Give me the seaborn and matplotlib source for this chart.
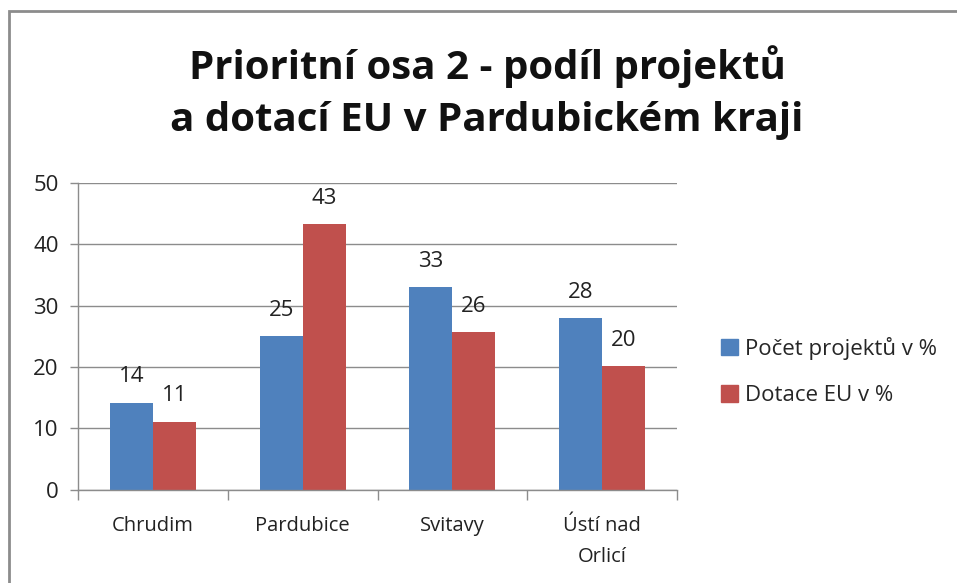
import matplotlib
matplotlib.use("Agg")
import matplotlib.pyplot as plt
import matplotlib.patches as mpatches
import seaborn as sns
import pandas as pd

# Data
okresy = ["Chrudim", "Pardubice", "Svitavy", "Ústí nad\nOrlicí"]
pocet_projektu = [14.2, 25.0, 33.0, 28.0]
dotace_eu = [11.1, 43.3, 25.7, 20.2]
serie = ["Počet projektů v %", "Dotace EU v %"]
barvy = ["#4F81BD", "#C0504D"]
y_ticks = [0, 10, 20, 30, 40, 50]

df = pd.DataFrame({
    "okres": okresy * 2,
    "hodnota": pocet_projektu + dotace_eu,
    "serie": [serie[0]] * len(okresy) + [serie[1]] * len(okresy),
})

sns.set_theme(style="white")
plt.rcParams['font.family'] = ['Open Sans', 'DejaVu Sans']

fig = plt.figure(figsize=(9.57, 5.83), dpi=100)
ax = fig.add_axes([0.0815, 0.160, 0.626, 0.526])

sns.barplot(data=df, x="okres", y="hodnota", hue="serie", palette=barvy,
            width=0.575, saturation=1, linewidth=0, ax=ax, legend=True)

ax.set_ylim(0, 50)
ax.set_xlim(-0.5, len(okresy) - 0.5)
ax.set_yticks(y_ticks)
ax.yaxis.grid(True, color="#8c8c8c", linewidth=1)
ax.set_axisbelow(True)
ax.set_xlabel("")
ax.set_ylabel("")

for side in ["top", "right"]:
    ax.spines[side].set_visible(False)
for side in ["left", "bottom"]:
    ax.spines[side].set_color("#8c8c8c")
    ax.spines[side].set_linewidth(1)

# category tick marks sit between the groups
ax.set_xticks([i - 0.5 for i in range(len(okresy) + 1)], minor=True)
ax.tick_params(axis="x", which="minor", length=7, color="#8c8c8c", width=1, bottom=True)
ax.tick_params(axis="x", which="major", length=0, pad=19, labelsize=14.5, labelcolor="#222222")
ax.tick_params(axis="y", length=6, color="#8c8c8c", width=1, left=True, pad=8,
               labelsize=16, labelcolor="#222222")
for lab in ax.get_xticklabels():
    lab.set_linespacing(1.75)

for container in ax.containers:
    ax.bar_label(container, fmt="%.0f", padding=11, fontsize=16, color="#222222")

handles = [mpatches.Patch(color=c) for c in barvy]
ax.legend(handles, serie, loc="center left", bbox_to_anchor=(1.04, 0.386),
          frameon=False, fontsize=16, handlelength=0.75, handleheight=0.75,
          handletextpad=0.35, labelspacing=1.15)

fig.text(0.509, 0.841, "Prioritní osa 2 - podíl projektů\na dotací EU v Pardubickém kraji",
         ha="center", va="center", fontsize=29, fontweight="bold", linespacing=1.45,
         color="#111111")

# outer chart frame (cut off on the right and bottom)
fig.add_artist(mpatches.Rectangle((9 / 957, -0.1), 1.1, 1.1 - 11 / 583,
                                  transform=fig.transFigure, fill=False,
                                  edgecolor="#8c8c8c", linewidth=2))

fig.savefig("out.png", dpi=100)
